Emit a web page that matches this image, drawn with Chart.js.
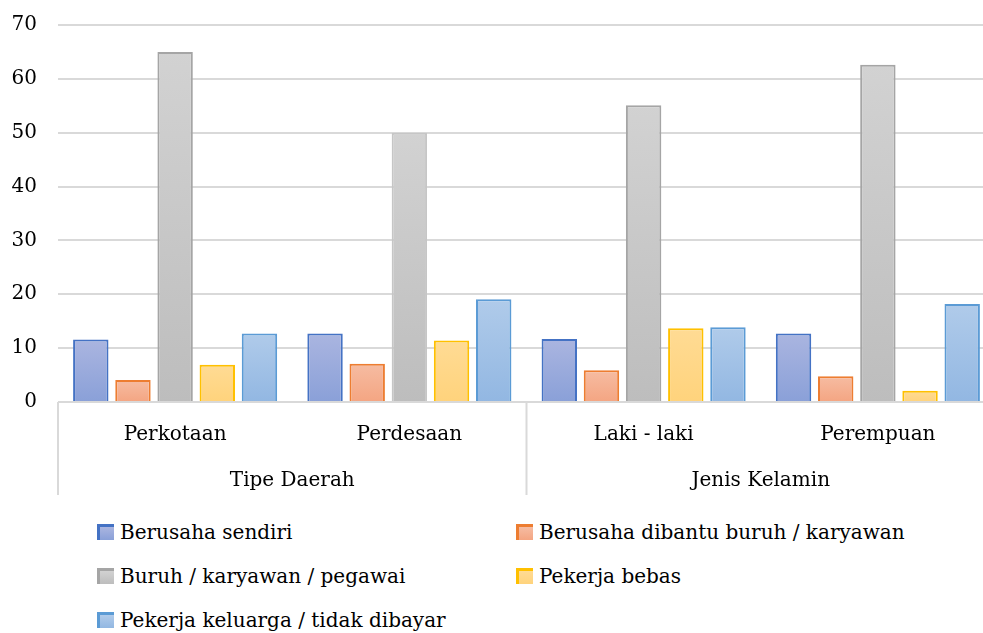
<!DOCTYPE html>
<html>
<head>
<meta charset="utf-8">
<script src="https://cdn.jsdelivr.net/npm/chart.js@4/dist/chart.umd.min.js"></script>
<style>
body { margin: 0; background: #fff; font-family: "DejaVu Serif", serif; overflow: hidden; }
#wrap { position: relative; width: 983px; height: 500px; overflow: hidden; }
#legend { position: absolute; left: 97px; top: 510px; display: grid; grid-template-columns: 419px 419px; }
.item { height: 44px; display: flex; align-items: center; font-size: 20px; color: #000; white-space: nowrap; }
.box { width: 14px; height: 13px; margin-right: 6px; border-top: 3px solid; border-left: 3px solid; }
</style>
</head>
<body>
<!-- the plot runs a little past the right edge of the picture, as in the original -->
<div id="wrap"><canvas id="chart" width="995" height="500"></canvas></div>
<div id="legend"></div>
<script>
var categories = ['Perkotaan', 'Perdesaan', 'Laki - laki', 'Perempuan'];
var groups = ['Tipe Daerah', 'Jenis Kelamin'];
var seriesNames = [
    'Berusaha sendiri',
    'Berusaha dibantu buruh / karyawan',
    'Buruh / karyawan / pegawai',
    'Pekerja bebas',
    'Pekerja keluarga / tidak dibayar'
];
var berusahaSendiri = [11.6, 12.7, 11.7, 12.7];
var dibantuBuruh = [4.1, 7.1, 5.9, 4.8];
var buruhKaryawan = [65.0, 50.0, 55.1, 62.6];
var pekerjaBebas = [6.9, 11.4, 13.7, 2.1];
var pekerjaKeluarga = [12.7, 19.1, 13.9, 18.2];
var yTicks = [0, 10, 20, 30, 40, 50, 60, 70];

var seriesValues = [berusahaSendiri, dibantuBuruh, buruhKaryawan, pekerjaBebas, pekerjaKeluarga];

// fill colours: light at the top of each bar, darker at the base
var styles = [
    { border: '#4472c4', top: '#aab5e0', bottom: '#8aa0d8' },
    { border: '#ed7d31', top: '#f6bca2', bottom: '#f4a582' },
    { border: '#a5a5a5', top: '#d2d2d2', bottom: '#bdbdbd' },
    { border: '#ffc000', top: '#ffdb94', bottom: '#ffd37c' },
    { border: '#5b9bd5', top: '#b0cbea', bottom: '#92b7e2' }
];

Chart.defaults.font.family = '"DejaVu Serif", serif';
Chart.defaults.font.size = 20;
Chart.defaults.color = '#000';

function barFill(i) {
    return function(ctx) {
        var chart = ctx.chart, st = styles[i];
        if (!ctx.parsed || !chart.chartArea) return st.bottom;
        var y = chart.scales.y;
        var g = chart.ctx.createLinearGradient(0, y.getPixelForValue(ctx.parsed.y), 0, y.getPixelForValue(0));
        g.addColorStop(0, st.top);
        g.addColorStop(1, st.bottom);
        return g;
    };
}

var datasets = seriesNames.map(function(name, i) {
    return {
        label: name,
        data: seriesValues[i],
        backgroundColor: barFill(i),
        borderColor: styles[i].border,
        borderWidth: 2,
        borderSkipped: 'bottom',
        categoryPercentage: 0.9,
        barPercentage: 0.84
    };
});
// the Perdesaan grey bar has no dark outline in the original
datasets[2].borderColor = function(ctx) { return ctx.dataIndex === 1 ? '#c6c6c6' : styles[2].border; };

// vertical separators of the two-level category axis
var groupLines = {
    id: 'groupLines',
    afterDraw: function(chart) {
        var x = chart.scales.x, x2 = chart.scales.x2, c = chart.ctx;
        var per = categories.length / groups.length;
        c.save();
        c.strokeStyle = '#d9d9d9';
        c.lineWidth = 2;
        for (var g = 0; g < groups.length; g++) {
            var px = g === 0 ? x.left : (x.getPixelForValue(g * per - 1) + x.getPixelForValue(g * per)) / 2;
            c.beginPath();
            c.moveTo(px, chart.chartArea.bottom);
            c.lineTo(px, x2.bottom + 4);
            c.stroke();
        }
        c.restore();
    }
};

new Chart(document.getElementById('chart').getContext('2d'), {
    type: 'bar',
    data: { labels: categories, datasets: datasets },
    plugins: [groupLines],
    options: {
        responsive: false,
        animation: false,
        devicePixelRatio: 1,
        layout: { padding: { top: 25, left: 10, right: 0, bottom: 9 } },
        plugins: { legend: { display: false }, tooltip: { enabled: false } },
        scales: {
            y: {
                min: 0,
                max: 70,
                afterBuildTicks: function(s) { s.ticks = yTicks.map(function(v) { return { value: v }; }); },
                afterFit: function(s) { s.width = 48; s.paddingTop = 0; s.paddingBottom = 0; },
                grid: { color: '#d9d9d9', lineWidth: 2, drawTicks: false },
                border: { display: false },
                ticks: { padding: 21 }
            },
            x: {
                afterFit: function(s) { s.height = 43; s.paddingLeft = 0; s.paddingRight = 0; },
                grid: { display: false, drawTicks: false },
                border: { display: false },
                ticks: { padding: 21, autoSkip: false, maxRotation: 0 }
            },
            x2: {
                type: 'category',
                labels: groups,
                position: 'bottom',
                offset: true,
                afterFit: function(s) { s.height = 46; s.paddingLeft = 0; s.paddingRight = 0; },
                grid: { display: false, drawTicks: false },
                border: { display: false },
                ticks: { padding: 24, autoSkip: false, maxRotation: 0 }
            }
        }
    }
});

var legend = document.getElementById('legend');
seriesNames.forEach(function(name, i) {
    var item = document.createElement('div');
    item.className = 'item';
    var box = document.createElement('span');
    box.className = 'box';
    box.style.borderColor = styles[i].border;
    box.style.background = 'linear-gradient(' + styles[i].top + ',' + styles[i].bottom + ')';
    item.appendChild(box);
    item.appendChild(document.createTextNode(name));
    legend.appendChild(item);
});
</script>
</body>
</html>
